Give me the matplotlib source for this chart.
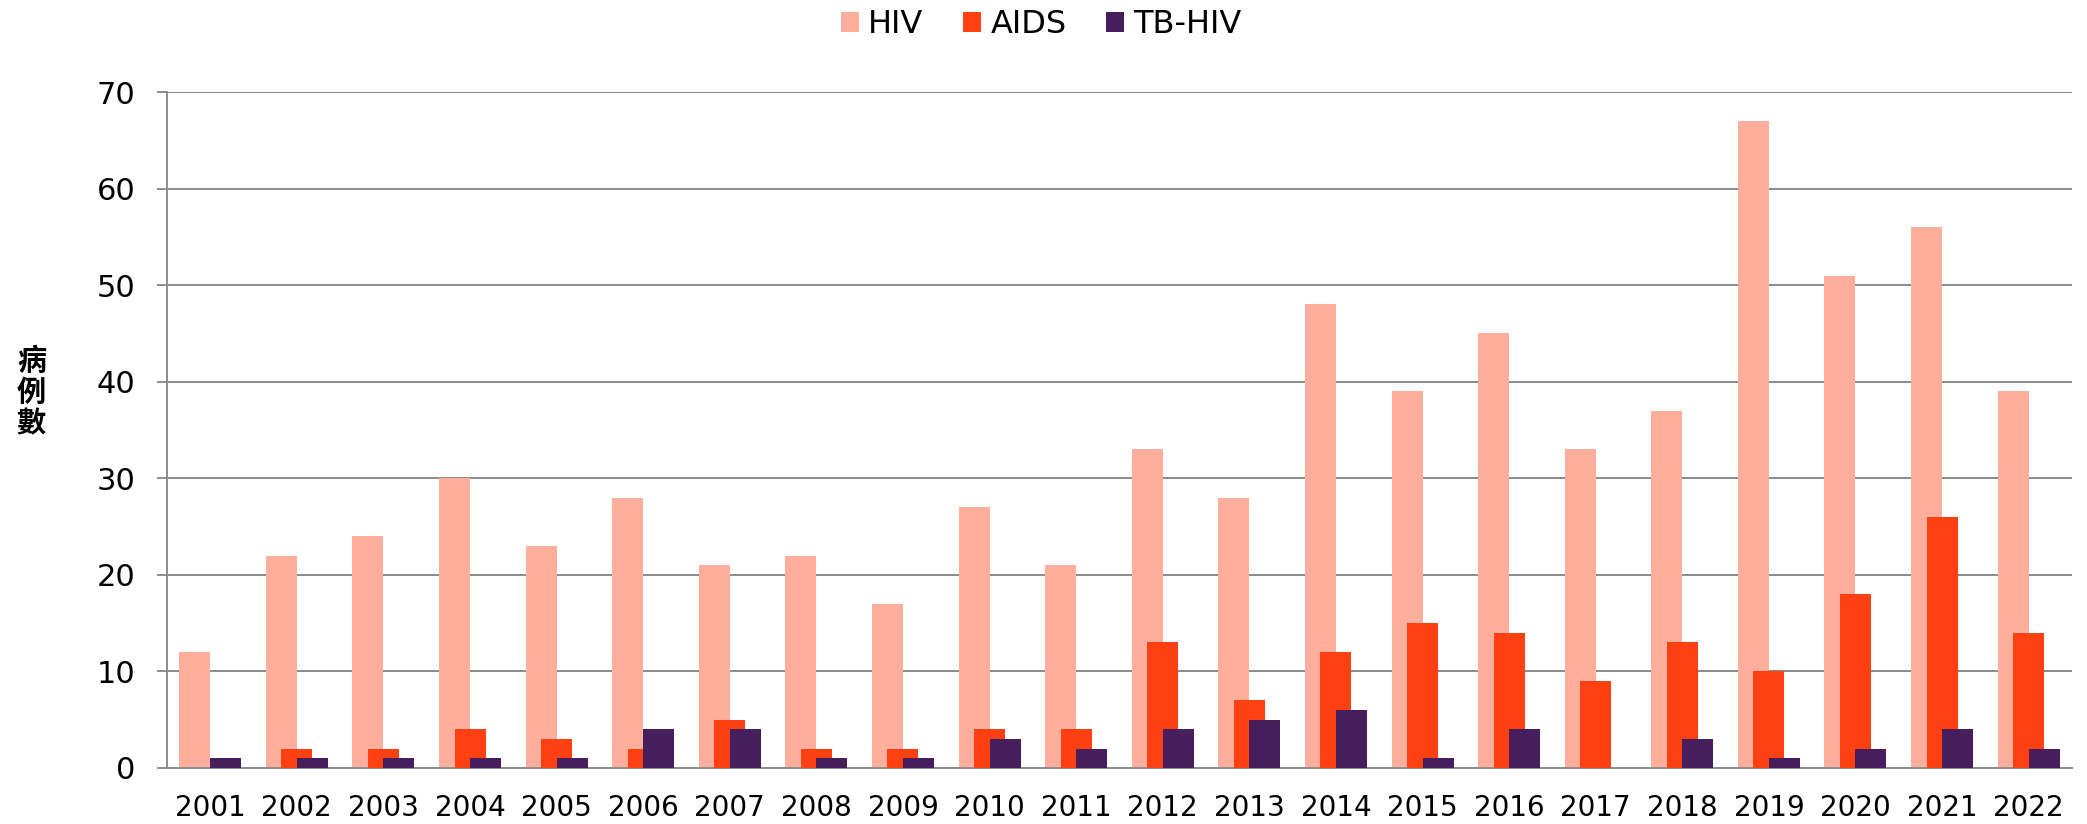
import numpy as np
import matplotlib
matplotlib.use("Agg")
import matplotlib.pyplot as plt
from matplotlib.patches import Patch

plt.rcParams['font.family'] = ['DejaVu Sans', 'Noto Sans CJK TC']

years = [str(y) for y in range(2001, 2023)]
hiv = [12, 22, 24, 30, 23, 28, 21, 22, 17, 27, 21, 33, 28, 48, 39, 45, 33, 37, 67, 51, 56, 39]
aids = [0, 2, 2, 4, 3, 2, 5, 2, 2, 4, 4, 13, 7, 12, 15, 14, 9, 13, 10, 18, 26, 14]
tb_hiv = [1, 1, 1, 1, 1, 4, 4, 1, 1, 3, 2, 4, 5, 6, 1, 4, 0, 3, 1, 2, 4, 2]
series_names = ['HIV', 'AIDS', 'TB-HIV']
colors = ['#ffae9c', '#ff4013', '#461e5e']

fig = plt.figure(figsize=(20.87, 8.24), dpi=100)
ax = fig.add_axes([0.080, 0.068, 0.9128, 0.8203])

x = np.arange(len(years))
w = 0.358
step = 0.179
# overlapping bars, drawn back to front
for i, vals in enumerate([hiv, aids, tb_hiv]):
    ax.bar(x + (i - 1) * step, vals, width=w, color=colors[i], linewidth=0, zorder=2 + i)

ax.set_xlim(-0.5, 21.5)
ax.set_ylim(0, 70)
ax.set_yticks(range(0, 71, 10))
ax.set_xticks(x)
ax.set_xticklabels(years, fontsize=20)
ax.tick_params(axis='x', length=0, pad=19)
ax.tick_params(axis='y', length=7.5, width=1.4, color='#8c8c8c', pad=15, labelsize=22)
ax.yaxis.grid(True, color='#8a8a8a', linewidth=1.4, zorder=0)
ax.set_axisbelow(True)
for s in ['top', 'right']:
    ax.spines[s].set_visible(False)
for s in ['left', 'bottom']:
    ax.spines[s].set_color('#8c8c8c')
    ax.spines[s].set_linewidth(1.4)

fig.text(0.015, 0.524, '病\n例\n數', fontsize=21, fontweight='bold',
         family=['Noto Sans CJK TC', 'DejaVu Sans'], ha='center', va='center', linespacing=1.05)

handles = [Patch(facecolor=c, edgecolor='none') for c in colors]
fig.legend(handles, series_names, loc='center', bbox_to_anchor=(0.499, 0.970), ncol=3,
           frameon=False, fontsize=23, handlelength=0.56, handleheight=0.56,
           handletextpad=0.28, columnspacing=1.25, borderpad=0)

fig.savefig('out.png', dpi=100)
